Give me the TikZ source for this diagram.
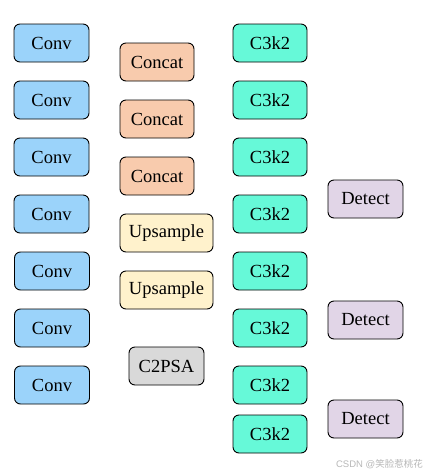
\documentclass[tikz,border=0pt]{standalone}
\usepackage{fontspec}
\setmainfont{Liberation Serif}
\newfontfamily\cjkfont{Noto Sans CJK SC}
\newfontfamily\wmfont{Liberation Sans}
\definecolor{convc}{HTML}{9BD3FA}
\definecolor{concatc}{HTML}{F8CBAD}
\definecolor{upc}{HTML}{FFF2CC}
\definecolor{psac}{HTML}{D9D9D9}
\definecolor{c3c}{HTML}{66F9D8}
\definecolor{detc}{HTML}{E1D5E7}
\begin{document}
\begin{tikzpicture}[x=1pt,y=-1pt,
  blk/.style={draw=black,line width=0.9pt,rounded corners=6pt,minimum height=38pt,inner sep=0pt,
    font=\fontsize{18.5}{20}\selectfont},
  convb/.style={blk,fill=convc,minimum width=75pt},
  concatb/.style={blk,fill=concatc,minimum width=74pt},
  upb/.style={blk,fill=upc,minimum width=93pt},
  psab/.style={blk,fill=psac,minimum width=75pt},
  c3b/.style={blk,fill=c3c,minimum width=74pt},
  detb/.style={blk,fill=detc,minimum width=75pt}]
\useasboundingbox (0,0) rectangle (424,475);
\fill[white] (0,0) rectangle (424,475);
% Conv column
\node[convb] (conv1) at (51.5,43) {Conv};
\node[convb] (conv2) at (51.5,100) {Conv};
\node[convb] (conv3) at (51.5,157) {Conv};
\node[convb] (conv4) at (51.5,214) {Conv};
\node[convb] (conv5) at (52,271) {Conv};
\node[convb] (conv6) at (52,328) {Conv};
\node[convb] (conv7) at (52,385) {Conv};
% middle column
\node[concatb] (cat1) at (157,62) {Concat};
\node[concatb] (cat2) at (157,119) {Concat};
\node[concatb] (cat3) at (157,176) {Concat};
\node[upb] (up1) at (166.5,233) {Upsample};
\node[upb] (up2) at (166.5,290) {Upsample};
\node[psab] (psa) at (166.5,366) {C2PSA};
% C3k2 column
\node[c3b] (c1) at (270,43) {C3k2};
\node[c3b] (c2) at (270,100) {C3k2};
\node[c3b] (c3) at (270,157) {C3k2};
\node[c3b] (c4) at (270,214) {C3k2};
\node[c3b] (c5) at (270,271) {C3k2};
\node[c3b] (c6) at (270,328) {C3k2};
\node[c3b] (c7) at (270,385) {C3k2};
\node[c3b] (c8) at (270,434) {C3k2};
% Detect column
\node[detb] (d1) at (365.5,199) {Detect};
\node[detb] (d2) at (365.5,320) {Detect};
\node[detb] (d3) at (365.5,419) {Detect};
% watermark
\node[text=black!28,font=\wmfont\fontsize{9.5}{11}\selectfont,anchor=east,inner sep=0pt] (wm) at (423,464) {CSDN @\cjkfont 笑脸惹桃花};
\end{tikzpicture}
\end{document}
